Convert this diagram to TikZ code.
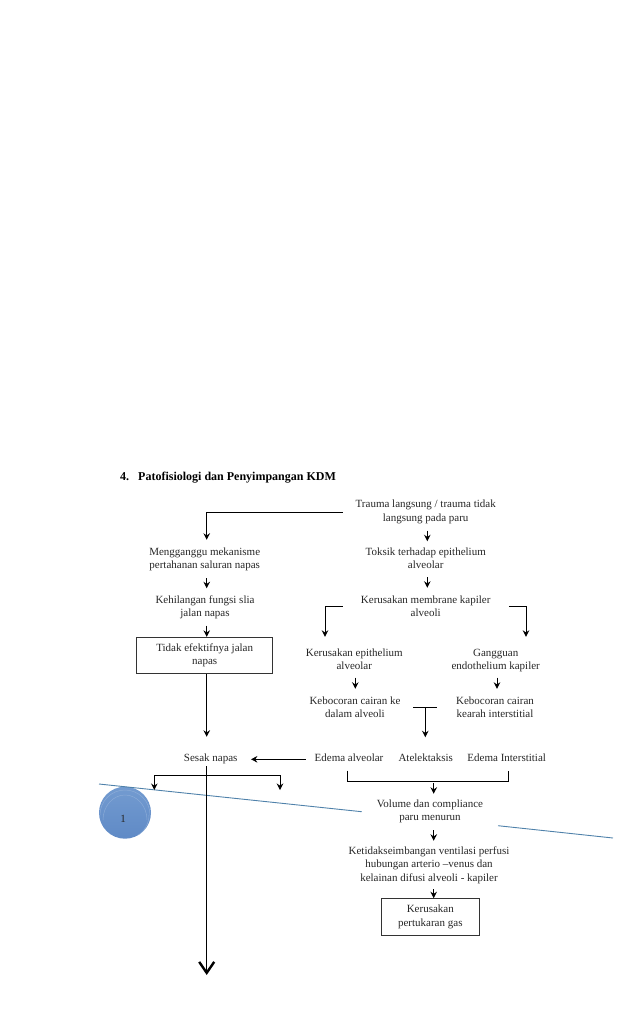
\documentclass[tikz,border=0pt]{standalone}
\usepackage{fontspec}
\setmainfont{Liberation Serif}
\usetikzlibrary{arrows.meta}
\definecolor{rule}{RGB}{79,129,170}
\definecolor{discA}{RGB}{115,155,208}
\definecolor{discM}{RGB}{72,118,178}
\definecolor{discB}{RGB}{95,138,198}
\tikzset{
  txt/.style={inner sep=0pt,align=center,font=\fontsize{11}{13.3}\selectfont,text=black!85},
  two/.style={txt,minimum height=37pt},
  one/.style={txt,minimum height=25pt},
  wide/.style={minimum width=166pt},
  flowbox/.style={txt,draw=black!80,line width=0.9pt},
  conn/.style={line width=1pt,black},
  arr/.style={conn,-{Stealth[length=6.5pt,width=6.5pt]}},
  bluerule/.style={rule,line width=0.9pt},
}
\begin{document}
\begin{tikzpicture}[x=1pt,y=-1pt]
\useasboundingbox (0,0) rectangle (638,1020);
% title
\node[anchor=base west,inner sep=0pt,font=\fontsize{12}{14}\selectfont\bfseries] (title) at (120,480) {4.\hspace{9pt}Patofisiologi dan Penyimpangan KDM};
% right column
\node[two,wide] (trauma) at (425.7,512) {Trauma langsung / trauma tidak\\langsung pada paru};
\node[two] (toksik) at (425.7,558.5) {Toksik terhadap epithelium\\alveolar};
\node[two,wide] (membrane) at (425.7,606.5) {Kerusakan membrane kapiler\\alveoli};
\node[two] (epi) at (354.3,659) {Kerusakan epithelium\\alveolar};
\node[two] (endo) at (495.7,660.5) {Gangguan\\endothelium kapiler};
\node[two,minimum width=116pt] (bocorA) at (355,707.5) {Kebocoran cairan ke\\dalam alveoli};
\node[two,minimum width=116pt] (bocorB) at (495,707.5) {Kebocoran cairan\\kearah interstitial};
\node[one,minimum width=86.6pt] (edemaA) at (349,758) {Edema alveolar};
\node[one] (atel) at (425.7,758) {Atelektaksis};
\node[one] (edemaI) at (506.7,758) {Edema Interstitial};
\node[txt,minimum height=34pt] (volume) at (430,811) {Volume dan compliance\\paru menurun};
\node[txt,minimum height=48pt] (keti) at (429,865) {Ketidakseimbangan ventilasi perfusi\\hubungan arterio --venus dan\\kelainan difusi alveoli - kapiler};
\node[flowbox,minimum width=98.7pt,minimum height=36.3pt] (gas) at (430.3,916.8) {Kerusakan\\pertukaran gas};
% left column
\node[two] (ganggu) at (204.7,559.5) {Mengganggu mekanisme\\pertahanan saluran napas};
\node[two] (silia) at (205,607) {Kehilangan fungsi slia\\jalan napas};
\node[flowbox,minimum width=136pt,minimum height=36pt] (tidak) at (204.7,655.3) {Tidak efektifnya jalan\\napas};
\node[txt,minimum width=80pt,minimum height=18pt] (sesak) at (210.7,758.5) {Sesak napas};
% helper points
\coordinate (tee) at (425.3,707);
\coordinate (hub) at (206.7,775.3);
\coordinate (endL) at (154.3,790);
\coordinate (endR) at (280,790);
\coordinate (bottom) at (206.7,975);
\coordinate (brk) at (433.7,783);
\coordinate (ruleA) at (99,784);
\coordinate (ruleB) at (361.7,811.7);
\coordinate (ruleC) at (498,825.7);
\coordinate (ruleD) at (613,838);
% blue ruling and disc
\shade[top color=discA,middle color=discM,bottom color=discB] (125,812.7) circle (26pt);
\draw[discA!70!white,line width=0.5pt,opacity=.6] (100,815) arc (180:0:25pt and 25pt);
\draw[discA!70!white,line width=0.5pt,opacity=.6] (103,820) arc (180:0:22pt and 25pt);
\draw[discA!70!white,line width=0.5pt,opacity=.6] (149,815) arc (0:-60:24pt and 24pt);
\draw[bluerule] (ruleA) -- (ruleB);
\draw[bluerule] (ruleC) -- (ruleD);
\node[txt] (disc) at (123,819) {1};
% connectors, right column
\draw[arr] (trauma.west) -| ([xshift=-219pt]toksik.north);
\draw[arr] ([xshift=1.6pt]trauma.south) -- ([xshift=1.6pt,yshift=-1.5pt]toksik.north);
\draw[arr] ([xshift=1.6pt]toksik.south) -- ([xshift=1.6pt]membrane.north);
\draw[arr] (membrane.west) -| ([xshift=-29.3pt,yshift=3.5pt]epi.north);
\draw[arr] (membrane.east) -| ([xshift=30.3pt,yshift=5pt]endo.north);
\draw[arr] ([xshift=1pt]epi.south) -- ([xshift=.3pt]bocorA.north);
\draw[arr] ([xshift=1.3pt,yshift=1.5pt]endo.south) -- ([xshift=2pt]bocorB.north);
\draw[conn] (bocorA.east) -- (bocorB.west);
\draw[arr] (tee) -- ([xshift=-.4pt,yshift=8pt]atel.north);
\draw[arr] ([yshift=-1.3pt]edemaA.west) -- ([yshift=-.8pt]sesak.east);
\draw[conn] ([xshift=-1.3pt]edemaA.south) -- ([xshift=-1.3pt,yshift=-10.7pt]edemaA.south) -| ([xshift=2pt]edemaI.south);
\draw[arr] (brk) -- ([xshift=3.7pt]volume.north);
\draw[arr] ([xshift=3.7pt,yshift=-2pt]volume.south) -- ([xshift=4.7pt]keti.north);
\draw[arr] ([xshift=4.7pt]keti.south) -- ([xshift=3.4pt]gas.north);
% connectors, left column
\draw[arr] ([xshift=2pt]ganggu.south) -- ([xshift=1.7pt]silia.north);
\draw[arr] ([xshift=1.7pt]silia.south) -- ([xshift=2pt]tidak.north);
\draw[arr] ([xshift=2pt]tidak.south) -- ([xshift=-4pt,yshift=12.5pt]sesak.north);
\draw[conn,-{Straight Barb[length=11pt,width=15pt,line width=2.4pt]}] ([xshift=-4pt,yshift=1.5pt]sesak.south) -- (bottom);
\draw[arr] (hub) -| (endL);
\draw[arr] (hub) -| (endR);
\end{tikzpicture}
\end{document}
